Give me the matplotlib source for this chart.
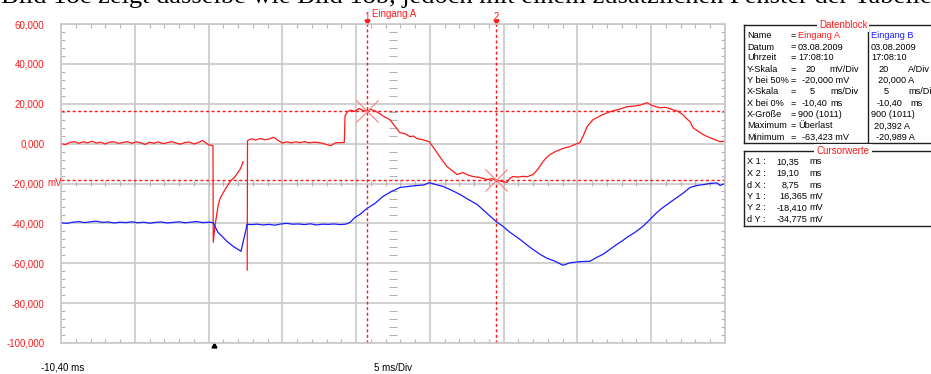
import matplotlib
matplotlib.use("Agg")
import matplotlib.pyplot as plt
from matplotlib.lines import Line2D
import numpy as np

plt.rcParams['font.family'] = ['Liberation Sans', 'DejaVu Sans']

# Eingang A, time in ms, voltage in mV (nan = Überlast gap)
red_t = [-10.4, -10.1, -9.8, -9.5, -9.2, -8.9, -8.6, -8.3, -8.0, -7.7, -7.4, -7.1,
         -6.8, -6.5, -6.2, -5.9, -5.6, -5.3, -5.0, -4.7, -4.4, -4.1, -3.8, -3.5,
         -3.2, -2.9, -2.6, -2.3, -2.0, -1.7, -1.4, -1.1, -0.8, -0.6, -0.4, -0.2,
         -0.1, -0.08, 0.02, 0.25, 0.38, 0.72, 1.06, 1.40, 1.73, 1.87, 1.94, 2.0,
         2.22, 2.24, 2.5, 2.8, 3.1, 3.4, 3.7, 4.0, 4.3, 4.6, 4.9, 5.2, 5.5, 5.8,
         6.1, 6.4, 6.7, 7.0, 7.3, 7.6, 7.9, 8.2, 8.5, 8.8, 8.85, 9.0, 9.2, 9.5,
         9.8, 10.1, 10.35, 10.6, 10.9, 11.2, 11.5, 11.9, 12.2, 12.57, 12.9, 13.25,
         13.5, 13.73, 14.1, 14.54, 14.8, 15.08, 15.4, 15.76, 16.1, 16.44, 16.84,
         17.2, 17.52, 18.0, 18.47, 18.8, 19.10, 19.4, 19.82, 20.0, 20.23, 20.6,
         20.91, 21.2, 21.59, 21.9, 22.27, 22.5, 22.74, 23.1, 23.42, 23.8, 24.09,
         24.4, 24.77, 25.0, 25.25, 25.65, 25.92, 26.3, 26.81, 27.3, 27.96, 28.4,
         28.9, 29.31, 29.7, 30.19, 30.6, 31.08, 31.4, 31.75, 32.0, 32.23, 32.43,
         32.91, 33.25, 33.58, 33.9, 34.26, 34.6]
red_mv = [0.0, -0.5, 0.6, 1.0, 0.2, 0.9, 0.4, 1.2, 0.3, 0.7, -0.2, 0.8,
          0.9, 0.1, 0.6, 1.0, 0.2, 0.9, 0.4, -0.4, 0.7, 0.2, 0.9, 0.0,
          0.5, 1.0, 0.3, -0.3, 0.6, 0.8, -0.2, 0.5, 1.6, 0.5, -0.6, -0.9,
          -1.0, -49.5, -42.0, -31.0, -27.5, -23.0, -19.0, -16.5, -13.0, -10.5, -9.0, np.nan,
          -63.423, 1.5, 2.4, 1.8, 2.6, 1.9, 2.3, 3.2, 1.7, 0.3, 0.9, 0.4, 0.9, 0.5,
          1.0, 0.4, 0.7, 0.6, 0.2, -0.5, -1.0, 0.4, 0.5, 0.6, 14.0, 15.8, 16.8, 16.2,
          17.6, 16.6, 16.365, 17.2, 16.3, 15.0, 13.5, 12.0, 9.0, 5.5, 5.0, 3.5,
          3.8, 2.5, 2.0, 1.0, -1.5, -4.5, -8.0, -11.5, -13.5, -15.5, -14.5,
          -15.8, -16.5, -17.0, -18.0, -17.6, -18.41, -18.8, -19.5, -17.5, -16.5, -16.8,
          -16.4, -16.6, -15.5, -13.0, -9.0, -7.0, -5.5, -4.0, -3.0, -2.0, -1.5,
          -0.5, 0.5, 4.0, 8.5, 12.0, 13.0, 14.5, 16.0, 17.0, 18.5, 18.8,
          19.4, 20.5, 19.0, 18.0, 18.2, 17.0, 16.2, 14.5, 12.5, 11.0, 8.0,
          5.5, 4.0, 3.0, 2.0, 1.0, 1.2]

# Eingang B, time in ms, current in A
blue_t = [-10.4, -10.0, -9.6, -9.2, -8.8, -8.4, -8.0, -7.6, -7.2, -6.8, -6.4, -6.0,
          -5.6, -5.2, -4.8, -4.4, -4.0, -3.6, -3.2, -2.8, -2.4, -2.0, -1.6, -1.2,
          -0.8, -0.4, -0.1, 0.24, 0.85, 1.26, 1.8, 2.14, 2.2, 2.5, 2.9, 3.3, 3.7,
          4.1, 4.5, 4.9, 5.3, 5.7, 6.1, 6.5, 6.9, 7.3, 7.7, 8.1, 8.5, 8.9, 9.19,
          9.52, 9.86, 10.34, 10.88, 11.42, 12.0, 12.57, 13.1, 13.73, 14.2, 14.54,
          15.0, 15.5, 16.1, 16.64, 17.2, 17.8, 18.47, 19.08, 19.55, 20.03, 20.7,
          21.38, 22.06, 22.54, 23.08, 23.62, 24.09, 24.77, 25.45, 25.92, 26.33,
          26.81, 27.28, 27.69, 27.96, 28.5, 29.04, 29.52, 29.99, 30.4, 30.87,
          31.35, 31.82, 32.23, 32.7, 33.18, 33.58, 34.06, 34.26, 34.6]
blue_a = [0.3, 0.0, 0.6, 0.9, 0.4, 0.8, 1.1, 0.5, 0.7, 0.2, 0.6, 0.4,
          0.8, 0.3, 0.6, 0.1, 0.5, 0.7, 0.2, 0.5, 0.8, 0.3, 0.6, 0.9,
          0.4, 0.6, 0.4, -4.5, -9.0, -11.5, -14.0, -3.0, -0.5, -0.6, -0.4, -0.8, -0.5,
          -0.9, -0.3, 0.0, -0.4, -0.3, -0.6, -0.2, -0.8, -0.4, -0.5, -0.3, -0.6, -0.4, 0.5,
          3.0, 4.5, 7.5, 10.0, 13.5, 16.0, 18.0, 18.5, 19.0, 19.3, 20.392,
          19.5, 18.5, 16.5, 14.5, 12.0, 9.5, 5.0, 1.0, -1.5, -4.5, -8.0,
          -12.0, -15.5, -17.5, -19.0, -20.989, -19.8, -19.2, -19.0, -17.0, -15.5,
          -13.0, -10.5, -8.5, -7.0, -4.5, -1.5, 2.0, 5.5, 8.0, 10.5,
          13.0, 15.5, 18.0, 19.0, 19.5, 20.0, 20.3, 19.0, 20.0]

# channel settings
x_start = -10.40   # ms
x_div = 5          # ms/Div
n_xdiv = 9
a_scale, a_center = 20, -20.0   # mV/Div, Y bei 50%
b_scale, b_center = 20, 20.0    # A/Div, Y bei 50%

cursor_x = [10.35, 19.10]
cursor_y = [16.365, -18.410]

RED = '#ff1a1a'
BLUE = '#1a1aff'
GRID = '#c8c8c8'
PANEL_FS = 6.6

W, H = 931, 374
fig = plt.figure(figsize=(W / 100, H / 100), dpi=100)
fig.patch.set_facecolor('white')


def fx(x):
    return x / W


def fy(y):
    return 1 - y / H


# clipped line of document text above the screenshot
fig.text(fx(1), fy(2.5), 'Bild 18c zeigt dasselbe wie Bild 18b, jedoch mit einem zusätzlichen Fenster der Tabelle',
         family='Liberation Serif', fontsize=19, va='baseline', ha='left')

ax = fig.add_axes([fx(61), fy(343), fx(664), 319 / H])
x_end = x_start + n_xdiv * x_div
ax.set_xlim(x_start, x_end)
ax.set_ylim(a_center - 4 * a_scale, a_center + 4 * a_scale)

ax.set_xticks(np.arange(x_start, x_end + 0.01, x_div))
ax.set_xticks(np.arange(x_start, x_end + 0.01, x_div / 5), minor=True)
yt = np.arange(-100, 61, 20)
ax.set_yticks(yt)
ax.set_yticklabels([f'{v:.3f}'.replace('.', ',') for v in yt])
ax.set_yticks(np.arange(-100, 61, 4), minor=True)
ax.tick_params(which='major', length=0, labelbottom=False)
ax.tick_params(axis='y', which='major', labelcolor=RED, labelsize=7, pad=12)
ax.tick_params(which='minor', direction='in', length=2.6, width=0.8, color='#b4b4b4',
               top=True, right=True, bottom=True, left=True)
ax.grid(which='major', color=GRID, lw=1.2)
for s in ax.spines.values():
    s.set_color(GRID)
    s.set_linewidth(1.2)
ax.set_axisbelow(True)

# centre cross ticks
x_mid = x_start + n_xdiv * x_div / 2
ym = np.arange(-100, 61, 4)
ym = ym[ym % 20 != 0]
ax.hlines(ym, x_mid - 0.24, x_mid + 0.24, color='#b4b4b4', lw=0.8)
xm = np.arange(x_start, x_end + 0.01, x_div / 5)
ax.vlines(xm, a_center - 1.5, a_center + 1.5, color='#b4b4b4', lw=0.8)

ax.text(-14 / 664, a_center, 'mV', transform=ax.get_yaxis_transform(),
        color=RED, fontsize=7, ha='left', va='center')

# traces
ax.plot(red_t, red_mv, color=RED, lw=0.9)
blue_screen = (np.array(blue_a) - b_center) / b_scale * a_scale + a_center
ax.plot(blue_t, blue_screen, color=BLUE, lw=0.9)

# cursors
dash = (0, (2.2, 1.8))
for cy in cursor_y:
    ax.axhline(cy, color=RED, lw=1, ls=dash)
for i, cx in enumerate(cursor_x):
    ax.plot([cx, cx], [-100, 62], color=RED, lw=1, ls=dash, clip_on=False)
    ax.plot(cx, 61.2, marker='v', ms=3.5, color=RED, clip_on=False)
    ax.text(cx, 63.6, str(i + 1), color=RED, fontsize=7, ha='center', va='center')
ax.text(cursor_x[0] + 0.34, 65, 'Eingang A', color=RED, fontsize=7, ha='left', va='center')
ax.plot(cursor_x, cursor_y, 'x', ms=16, mew=0.8, color='#ff7a7a', zorder=5)

# trigger point
ax.plot(0, -101, marker='^', ms=3.5, color='black', clip_on=False)

fig.text(fx(41), fy(368), f'{x_start:.2f}'.replace('.', ',') + ' ms', fontsize=7, va='center')
fig.text(fx(393), fy(368), f'{x_div} ms/Div', fontsize=7, va='center', ha='center')


def fline(x0, y0, x1, y1):
    fig.add_artist(Line2D([fx(x0), fx(x1)], [fy(y0), fy(y1)], color='#202020', lw=1))


def ftext(x, y, s, color='black', ha='left'):
    fig.text(fx(x), fy(y), s, color=color, fontsize=PANEL_FS, ha=ha, va='center')


# Datenblock
fline(744, 25, 936, 25)
fline(744, 25, 744, 143)
fline(744, 143, 936, 143)
fline(868, 29, 868, 143)
fig.text(fx(843), fy(25), 'Datenblock', color=RED, fontsize=7, ha='center', va='center',
         bbox=dict(facecolor='white', edgecolor='none', pad=1.5))

labels = ['Name', 'Datum', 'Uhrzeit', 'Y-Skala', 'Y bei 50%', 'X-Skala',
          'X bei 0%', 'X-Größe', 'Maximum', 'Minimum']
rows_y = [36, 47, 58, 69.5, 80.5, 92, 103.5, 114.5, 126, 137.5]
for lab, y in zip(labels, rows_y):
    ftext(747, y, lab)
    ftext(791, y, '=')

ftext(798, 36, 'Eingang A', RED)
ftext(798, 47, '03.08.2009')
ftext(798, 58, '17:08:10')
ftext(805, 69.5, '20')
ftext(829, 69.5, 'mV/Div')
ftext(802, 80.5, '-20,000 mV')
ftext(810, 92, '5')
ftext(830, 92, 'ms/Div')
ftext(802, 103.5, '-10,40')
ftext(830, 103.5, 'ms')
ftext(798, 114.5, '900 (1011)')
ftext(798, 126, 'Überlast')
ftext(802, 137.5, '-63,423 mV')

ftext(871, 36, 'Eingang B', BLUE)
ftext(871, 47, '03.08.2009')
ftext(871, 58, '17:08:10')
ftext(878, 69.5, '20')
ftext(908, 69.5, 'A/Div')
ftext(878, 80.5, '20,000 A')
ftext(884, 92, '5')
ftext(908, 92, 'ms/Div')
ftext(877, 103.5, '-10,40')
ftext(910, 103.5, 'ms')
ftext(871, 114.5, '900 (1011)')
ftext(874, 126, '20,392 A')
ftext(876, 137.5, '-20,989 A')

# Cursorwerte
fline(744, 151, 936, 151)
fline(744, 151, 744, 226)
fline(744, 226, 936, 226)
fig.text(fx(843), fy(151), 'Cursorwerte', color=RED, fontsize=7, ha='center', va='center',
         bbox=dict(facecolor='white', edgecolor='none', pad=1.5))

cur_labels = ['X 1 :', 'X 2 :', 'd X :', 'Y 1 :', 'Y 2 :', 'd Y :']
cur_vals = ['10,35', '19,10', '8,75', '16,365', '-18,410', '-34,775']
cur_units = ['ms', 'ms', 'ms', 'mV', 'mV', 'mV']
cur_y = [162, 173.5, 185, 196.5, 208, 219.5]
for lab, val, unit, y in zip(cur_labels, cur_vals, cur_units, cur_y):
    ftext(747, y, lab)
    ftext(799 if unit == 'ms' else 807, y, val, ha='right')
    ftext(809, y, unit)

fig.savefig('out.png', dpi=100)
